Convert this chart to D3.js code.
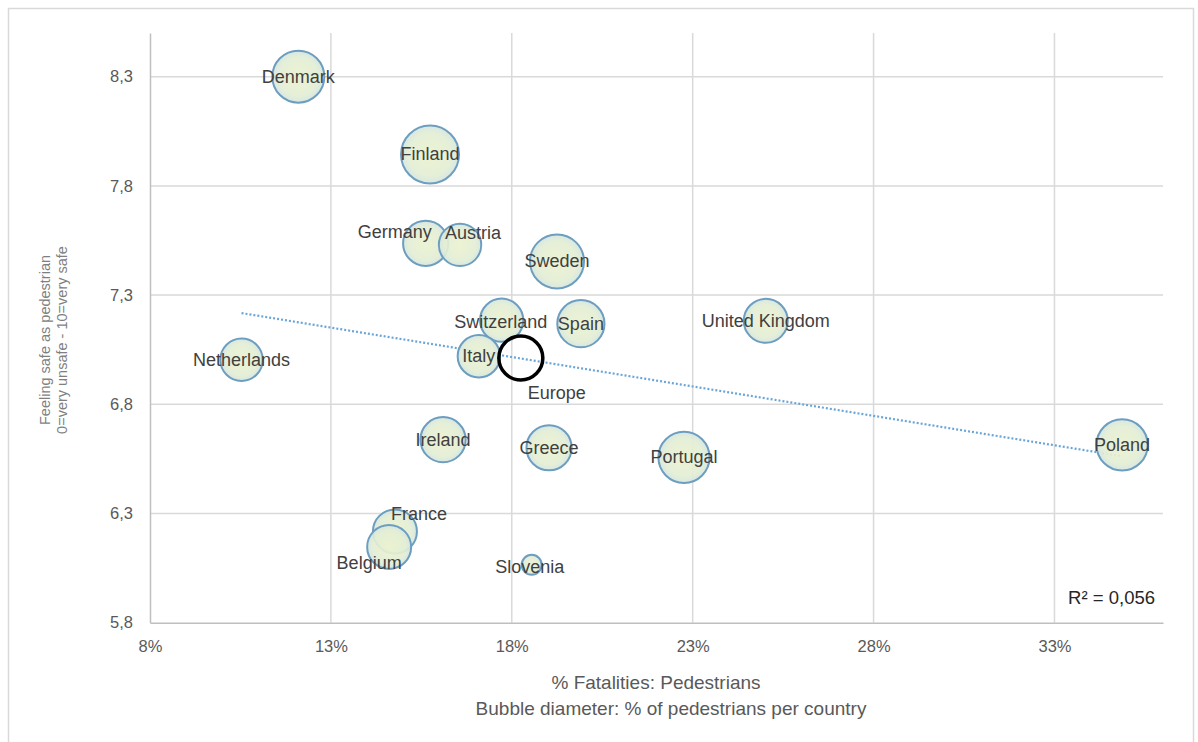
<!DOCTYPE html>
<html>
<head>
<meta charset="utf-8">
<script src="https://cdn.jsdelivr.net/npm/d3@7"></script>
<style>
  html, body { margin: 0; padding: 0; background: #ffffff; }
  svg { display: block; font-family: "Liberation Sans", Arial, sans-serif; }
</style>
</head>
<body>
<svg id="chart" width="1198" height="742"></svg>
<script>
// ---- data ----
const countries = ["Denmark","Finland","Germany","Austria","Sweden","Switzerland","Spain","United Kingdom","Italy","Netherlands","Ireland","Greece","Portugal","Poland","France","Belgium","Slovenia"];
const pedFatalityPct = [12.10, 15.74, 15.62, 16.57, 19.25, 17.72, 19.91, 25.02, 17.09, 10.53, 16.10, 19.03, 22.76, 34.87, 14.77, 14.61, 18.55];
const feelingSafe   = [8.30, 7.944, 7.537, 7.530, 7.454, 7.185, 7.169, 7.182, 7.020, 7.004, 6.638, 6.601, 6.557, 6.614, 6.218, 6.147, 6.065];
const pedShare      = [13.0, 14.5, 11.3, 10.6, 13.5, 10.8, 11.8, 11.0, 10.6, 10.6, 11.3, 11.3, 12.8, 12.8, 11.0, 11.0, 5.0];

const europeLabel = "Europe";
const europeX = 18.25;
const europeY = 7.012;
const europeShare = 11.0;

const xTicks = [8, 13, 18, 23, 28, 33];
const yTicks = [5.8, 6.3, 6.8, 7.3, 7.8, 8.3];
const xTitle = "% Fatalities: Pedestrians";
const xSubtitle = "Bubble diameter: % of pedestrians per country";
const yTitle1 = "Feeling safe as pedestrian";
const yTitle2 = "0=very unsafe - 10=very safe";
const r2Text = "R² = 0,056";

// ---- layout (label offsets in px) ----
const labelOffsets = {
  "Germany": [-31, -11], "Austria": [13, -12], "France": [24, -17], "Belgium": [-20, 16],
  "Switzerland": [-1, 2], "Slovenia": [-2, 2]
};
const europeLabelOffset = [36, 35];

const svg = d3.select("#chart");
const m = { left: 150, top: 33, right: 1163, bottom: 622.7 };

svg.append("rect").attr("x", 8.5).attr("y", 8.5).attr("width", 1185).attr("height", 760)
  .attr("fill", "#fff").attr("stroke", "#d9d9d9").attr("stroke-width", 1.5);

const x = d3.scaleLinear().domain([8, 36]).range([m.left, m.right]);
const y = d3.scaleLinear().domain([5.8, 8.5]).range([m.bottom, m.top]);
const rScale = d3.scaleLinear().domain([0, 15]).range([0, 30]);

const fmt = v => d3.format(".1f")(v).replace(".", ",");

// gridlines
const g = svg.append("g");
g.selectAll("line.h").data(yTicks.slice(1)).join("line")
  .attr("x1", m.left).attr("x2", m.right)
  .attr("y1", d => y(d)).attr("y2", d => y(d))
  .attr("stroke", "#d9d9d9").attr("stroke-width", 1.5);
g.selectAll("line.v").data(xTicks.slice(1)).join("line")
  .attr("x1", d => x(d)).attr("x2", d => x(d))
  .attr("y1", m.top).attr("y2", m.bottom)
  .attr("stroke", "#d9d9d9").attr("stroke-width", 1.5);

// axes
const yAxis = d3.axisLeft(y).tickValues(yTicks).tickFormat(fmt).tickSize(0).tickPadding(17);
const xAxis = d3.axisBottom(x).tickValues(xTicks).tickFormat(d => d + "%").tickSize(0).tickPadding(18);
const ya = svg.append("g").attr("transform", `translate(${m.left},0)`).call(yAxis);
const xa = svg.append("g").attr("transform", `translate(0,${m.bottom})`).call(xAxis);
[ya, xa].forEach(a => {
  a.select(".domain").attr("stroke", "#bfbfbf").attr("stroke-width", 1.5);
  a.selectAll("text").attr("fill", "#595959").style("font-size", "16.5px");
});

// trendline (least squares over countries)
const mx = d3.mean(pedFatalityPct), my = d3.mean(feelingSafe);
let sxy = 0, sxx = 0;
pedFatalityPct.forEach((v, i) => { sxy += (v - mx) * (feelingSafe[i] - my); sxx += (v - mx) ** 2; });
const slope = sxy / sxx, icpt = my - slope * mx;
const x0 = d3.min(pedFatalityPct), x1 = d3.max(pedFatalityPct);
svg.append("line")
  .attr("x1", x(x0)).attr("y1", y(icpt + slope * x0))
  .attr("x2", x(x1)).attr("y2", y(icpt + slope * x1))
  .attr("stroke", "#6aa5d8").attr("stroke-width", 2.2).attr("stroke-dasharray", "2 2");

// bubble gradient
const defs = svg.append("defs");
const grad = defs.append("radialGradient").attr("id", "bub");
grad.append("stop").attr("offset", "0%").attr("stop-color", "#ebf2d0");
grad.append("stop").attr("offset", "75%").attr("stop-color", "#e3eed4");
grad.append("stop").attr("offset", "100%").attr("stop-color", "#d3e5e2");

const data = countries.map((c, i) => ({ name: c, x: pedFatalityPct[i], y: feelingSafe[i], s: pedShare[i] }));
const order = data.slice().sort((a, b) => b.s - a.s);

svg.append("g").selectAll("circle").data(order).join("circle")
  .attr("cx", d => x(d.x)).attr("cy", d => y(d.y)).attr("r", d => rScale(d.s))
  .attr("fill", "url(#bub)").attr("fill-opacity", 0.92)
  .attr("stroke", "#6d9ebf").attr("stroke-width", 2);

// Europe
svg.append("circle")
  .attr("cx", x(europeX)).attr("cy", y(europeY)).attr("r", rScale(europeShare))
  .attr("fill", "none").attr("stroke", "#000").attr("stroke-width", 3.5);

// labels
const lbl = svg.append("g").style("font-size", "18px").attr("fill", "#404040");
lbl.selectAll("text").data(data).join("text")
  .attr("x", d => x(d.x) + (labelOffsets[d.name] ? labelOffsets[d.name][0] : 0))
  .attr("y", d => y(d.y) + (labelOffsets[d.name] ? labelOffsets[d.name][1] : 0))
  .attr("text-anchor", "middle").attr("dominant-baseline", "central")
  .text(d => d.name);
lbl.append("text")
  .attr("x", x(europeX) + europeLabelOffset[0]).attr("y", y(europeY) + europeLabelOffset[1])
  .attr("text-anchor", "middle").attr("dominant-baseline", "central").text(europeLabel);

// R2
svg.append("text").attr("x", 1155).attr("y", 597).attr("text-anchor", "end")
  .attr("dominant-baseline", "central").attr("fill", "#262626")
  .style("font-size", "18.5px").text(r2Text);

// axis titles
svg.append("text").attr("x", 656).attr("y", 682).attr("text-anchor", "middle")
  .attr("dominant-baseline", "central").attr("fill", "#595959").style("font-size", "19px").text(xTitle);
svg.append("text").attr("x", 671).attr("y", 708).attr("text-anchor", "middle")
  .attr("dominant-baseline", "central").attr("fill", "#595959").style("font-size", "19px").text(xSubtitle);

const yt = svg.append("g").attr("transform", "translate(45,340) rotate(-90)");
yt.append("text").attr("x", 0).attr("y", 0).attr("text-anchor", "middle").attr("dominant-baseline", "central")
  .attr("fill", "#7f7f7f").style("font-size", "14.5px").text(yTitle1);
yt.append("text").attr("x", 0).attr("y", 17).attr("text-anchor", "middle").attr("dominant-baseline", "central")
  .attr("fill", "#7f7f7f").style("font-size", "14.5px").text(yTitle2);
</script>
</body>
</html>
